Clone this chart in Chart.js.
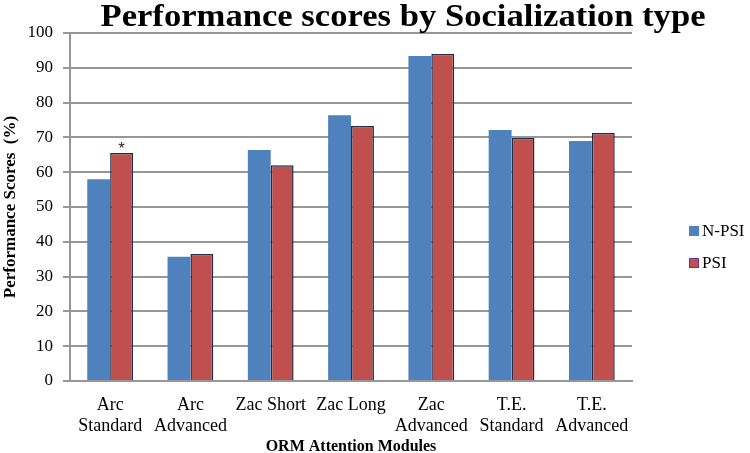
<!DOCTYPE html>
<html>
<head>
<meta charset="utf-8">
<script src="https://cdn.jsdelivr.net/npm/chart.js@4.4.1/dist/chart.umd.min.js"></script>
<style>
  html, body { margin: 0; padding: 0; background: #ffffff; }
  #wrap { width: 750px; height: 453px; }
</style>
</head>
<body>
<div id="wrap"><canvas id="c" width="750" height="453"></canvas></div>
<script>
const categories = [
  ['Arc', 'Standard'],
  ['Arc', 'Advanced'],
  ['Zac Short'],
  ['Zac Long'],
  ['Zac', 'Advanced'],
  ['T.E.', 'Standard'],
  ['T.E.', 'Advanced']
];
const seriesNames = ['N-PSI', 'PSI'];
const nPsiValues = [58.0, 35.7, 66.4, 76.4, 93.4, 72.1, 69.0];
const psiValues  = [65.5, 36.5, 62.0, 73.3, 94.0, 69.8, 71.3];
const psiMarks   = ['*', '', '', '', '', '', ''];
const yTicks = [0, 10, 20, 30, 40, 50, 60, 70, 80, 90, 100];
const titleText = 'Performance scores by Socialization type';
const yAxisTitle = 'Performance Scores  (%)';
const xAxisTitle = 'ORM Attention Modules';

const BLUE = '#4f81bd';
const RED = '#c0504d';
const GRID = '#979797';

const titlePlugin = {
  id: 'customTitle',
  afterDraw(chart) {
    const ctx = chart.ctx;
    ctx.save();
    ctx.font = 'bold 31px "Liberation Serif"';
    const w = ctx.measureText(titleText).width;
    const sx = 605 / w;
    ctx.fillStyle = '#000';
    ctx.textAlign = 'center';
    ctx.textBaseline = 'alphabetic';
    ctx.translate(403, 26);
    ctx.scale(sx, 1);
    ctx.fillText(titleText, 0, 0);
    ctx.restore();
  }
};

const legendPlugin = {
  id: 'customLegend',
  afterDraw(chart) {
    const ctx = chart.ctx;
    ctx.save();
    ctx.font = '17px "Liberation Serif"';
    ctx.textBaseline = 'middle';
    ctx.textAlign = 'left';
    chart.data.datasets.forEach((ds, i) => {
      const y = 231 + i * 32;
      const x = 689;
      ctx.fillStyle = ds.backgroundColor;
      ctx.fillRect(x, y - 5, 10, 10);
      if (ds.borderWidth) {
        ctx.strokeStyle = '#6a2fb0';
        ctx.lineWidth = 1;
        ctx.strokeRect(x + 0.5, y - 4.5, 9, 9);
      }
      ctx.fillStyle = '#000';
      ctx.fillText(ds.label, x + 13, y + 1);
    });
    ctx.restore();
  }
};

const markPlugin = {
  id: 'marks',
  afterDatasetsDraw(chart) {
    const ctx = chart.ctx;
    const meta = chart.getDatasetMeta(1);
    ctx.save();
    ctx.font = '16px "Liberation Sans"';
    ctx.fillStyle = '#222';
    ctx.textAlign = 'center';
    ctx.textBaseline = 'bottom';
    meta.data.forEach((bar, i) => {
      if (psiMarks[i]) ctx.fillText(psiMarks[i], bar.x, bar.y + 5);
    });
    ctx.restore();
  }
};

new Chart(document.getElementById('c'), {
  type: 'bar',
  data: {
    labels: categories,
    datasets: [
      { label: seriesNames[0], data: nPsiValues, backgroundColor: BLUE, borderWidth: 0 },
      { label: seriesNames[1], data: psiValues, backgroundColor: RED, borderColor: '#1f2c4c', borderWidth: 1.5 }
    ]
  },
  options: {
    responsive: false,
    animation: false,
    devicePixelRatio: 1,
    layout: { padding: { top: 33, right: 118, bottom: 0, left: 0 } },
    categoryPercentage: 0.57,
    barPercentage: 1.0,
    plugins: {
      legend: { display: false },
      title: { display: false },
      tooltip: { enabled: false }
    },
    scales: {
      x: {
        grid: { display: false, drawTicks: false },
        border: { display: true, color: GRID, width: 2 },
        ticks: {
          color: '#000',
          font: { family: '"Liberation Serif"', size: 18, lineHeight: 1.15 },
          padding: 14,
          maxRotation: 0,
          autoSkip: false
        },
        title: {
          display: true,
          text: xAxisTitle,
          color: '#000',
          font: { family: '"Liberation Serif"', size: 16, weight: 'bold', lineHeight: 0.8 },
          padding: { top: 0, bottom: 0 }
        },
        afterFit(scale) { scale.height = 72; }
      },
      y: {
        min: 0,
        max: 100,
        afterBuildTicks(scale) { scale.ticks = yTicks.map(v => ({ value: v })); },
        grid: { color: GRID, lineWidth: 2, tickLength: 7, drawTicks: true },
        border: { display: true, color: GRID, width: 2 },
        ticks: {
          color: '#000',
          font: { family: '"Liberation Serif"', size: 17 },
          padding: 10
        },
        title: {
          display: true,
          text: yAxisTitle,
          color: '#000',
          font: { family: '"Liberation Serif"', size: 17, weight: 'bold' },
          padding: { top: 0, bottom: 0 }
        },
        afterFit(scale) { scale.width = 70; }
      }
    }
  },
  plugins: [titlePlugin, legendPlugin, markPlugin]
});
</script>
</body>
</html>
